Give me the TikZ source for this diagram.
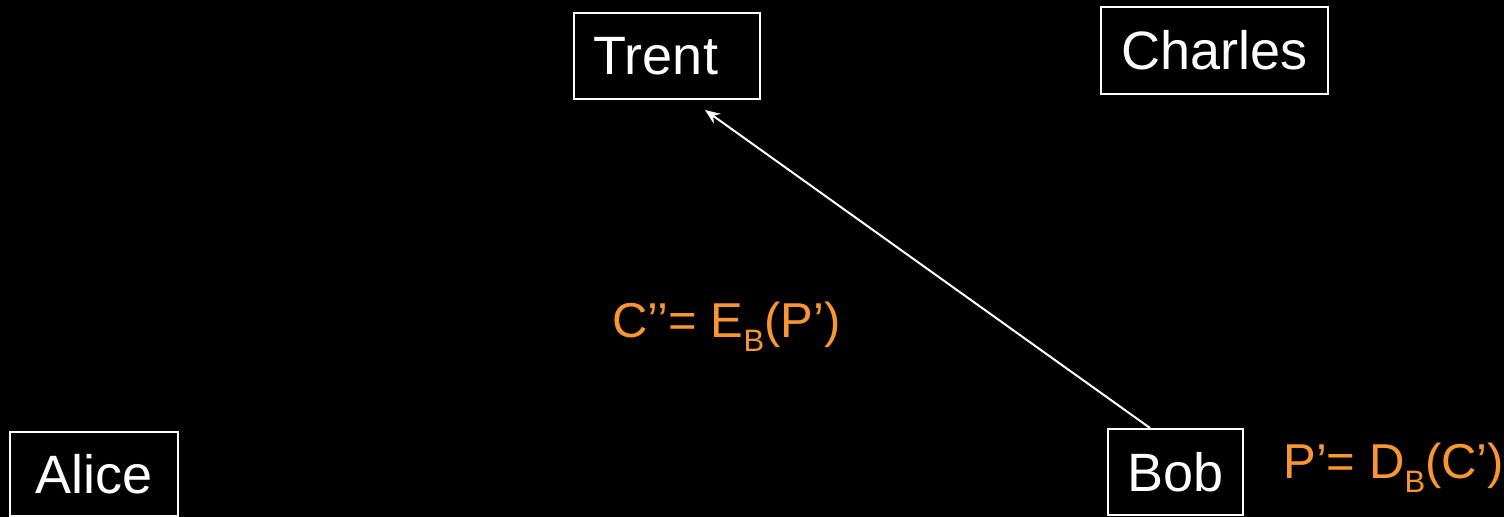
\documentclass[tikz,border=0pt]{standalone}
\usepackage{fontspec}
\setmainfont{Liberation Sans}
\usepackage{xcolor}
\usetikzlibrary{arrows.meta,positioning}
\definecolor{keyorange}{RGB}{250,150,50}
\newcommand{\keysub}[1]{\raisebox{-7pt}{\fontsize{15.5}{16}\selectfont #1}}

\begin{document}
\begin{tikzpicture}[
  x=0.5pt, y=-0.5pt,
  party/.style={draw=white, line width=1pt, fill=black, text=white,
                font=\fontsize{27}{30}\selectfont, inner sep=0pt},
  eqn/.style={text=keyorange, font=\fontsize{24.5}{30}\selectfont,
              inner sep=0pt, anchor=base west},
  msg/.style={-{Stealth[length=7.5pt,width=6pt]}, white, line width=1pt},
]
% Background
\fill[black] (0,0) rectangle (1504,517);
\useasboundingbox (0,0) rectangle (1504,517);
% Parties
\node[party, minimum width=93pt,   minimum height=43pt]   (trent)   at (667,56)     {Trent\kern11pt};
\node[party, minimum width=113.5pt, minimum height=43.5pt] (charles) at (1214.5,50.5) {Charles};
\node[party, minimum width=84pt,   minimum height=42pt]   (alice)   at (94,474)     {Alice};
\node[party, minimum width=67.5pt, minimum height=43pt]   (bob)     at (1175.5,472) {Bob};
% Equations
\node[eqn] (reenc) at (612,338)  {C'{}'= E\keysub{B}(P')};
\node[eqn] (dec)   at (1283,479) {P'= D\keysub{B}(C')};
% Message
\coordinate (tip) at (705,110);
\draw[msg] ([xshift=-12.75pt]bob.north) -- (tip);
\end{tikzpicture}
\end{document}
